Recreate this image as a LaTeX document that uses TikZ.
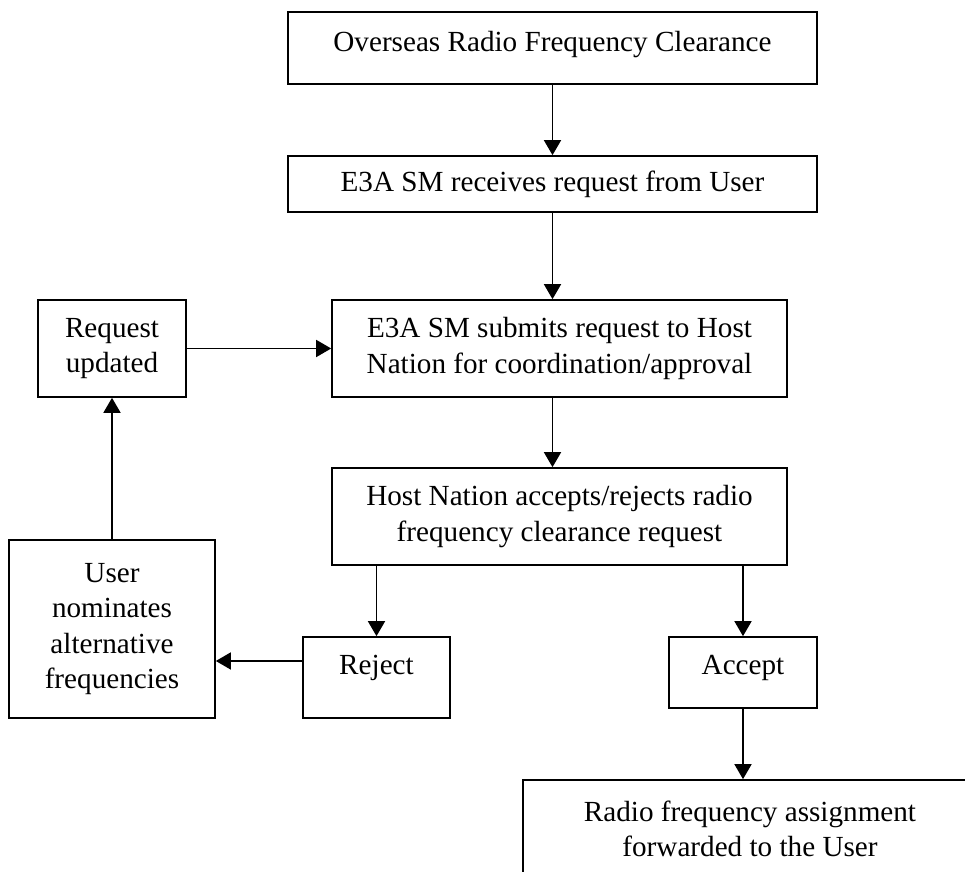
\documentclass[tikz,border=0pt]{standalone}
\usepackage{fontspec}
\setmainfont{Liberation Serif}
\usetikzlibrary{arrows.meta}
\tikzset{
  box/.style={draw, line width=0.33mm, align=center, inner sep=0pt},
  arr/.style={line width=0.33mm, -{Triangle[length=0.3cm, width=0.34cm]}}
}

\begin{document}
\begin{tikzpicture}[font=\fontsize{16.6pt}{20pt}\selectfont]
\clip (0,0) rectangle (19.3,17.44);
\node[box, minimum width=10.58cm, text height=0.8cm, text depth=0.64cm] (clear) at (11.05, 16.48) {Overseas Radio Frequency Clearance};
\node[box, minimum width=10.58cm, minimum height=1.12cm] (recv) at (11.05, 13.76) {E3A SM receives request from User};
\node[box, minimum width=9.1cm, minimum height=1.94cm] (submit) at (11.19, 10.47) {E3A SM submits request to Host\\Nation for coordination/approval};
\node[box, minimum width=2.96cm, minimum height=1.94cm] (upd) at (2.24, 10.47) {Request\\updated};
\node[box, minimum width=9.1cm, minimum height=1.94cm] (host) at (11.19, 7.11) {Host Nation accepts/rejects radio\\frequency clearance request};
\node[box, minimum width=4.12cm, minimum height=3.56cm] (user) at (2.24, 4.86) {User\\nominates\\alternative\\frequencies};
\node[box, minimum width=2.94cm, text height=0.76cm, text depth=0.86cm] (reject) at (7.53, 3.89) {Reject};
\node[box, minimum width=2.96cm, text height=0.76cm, text depth=0.66cm] (accept) at (14.86, 3.99) {Accept};
\node[box, minimum width=9.08cm, minimum height=1.94cm] (radio) at (15.0, 0.87) {Radio frequency assignment\\forwarded to the User};

\draw[arr] (clear) -- (recv);
\draw[arr] (recv) -- (recv |- submit.north);
\draw[arr] (submit.south -| recv) -- (host.north -| recv);
\draw[arr] (upd) -- (submit);
\draw[arr] (host.south -| reject) -- (reject);
\draw[arr] (host.south -| accept) -- (accept);
\draw[arr] ([yshift=0.33cm]reject.west) -- ([yshift=0.33cm]reject.west -| user.east);
\draw[arr] (user) -- (upd);
\draw[arr] (accept) -- (accept |- radio.north);

\end{tikzpicture}
\end{document}
